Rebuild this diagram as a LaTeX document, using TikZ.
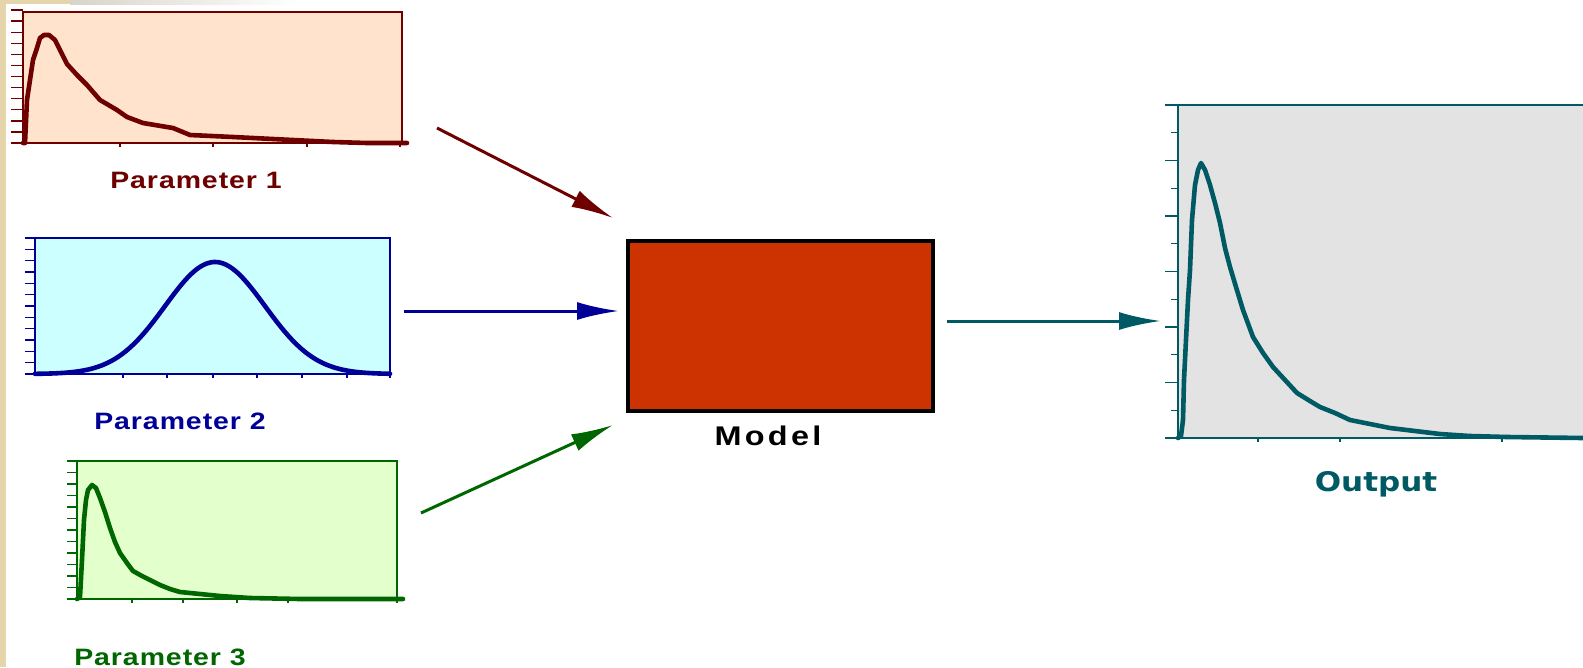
\documentclass[tikz,border=0pt]{standalone}
\usepackage{fontspec}
\usetikzlibrary{arrows.meta}
\newfontfamily\labfont{Liberation Sans}[FakeStretch=1.2]
\newfontfamily\outfont{DejaVu Sans}[FakeStretch=1.15]
\definecolor{beige}{RGB}{230,212,170}
\definecolor{topgrey}{RGB}{215,212,200}
\definecolor{pAfill}{RGB}{255,227,204}
\definecolor{pAline}{RGB}{110,0,0}
\definecolor{pBfill}{RGB}{204,255,255}
\definecolor{pBline}{RGB}{0,0,153}
\definecolor{pCfill}{RGB}{227,255,204}
\definecolor{pCline}{RGB}{0,102,0}
\definecolor{outfill}{RGB}{227,227,227}
\definecolor{tealc}{RGB}{0,90,100}
\definecolor{modelfill}{RGB}{204,51,0}
\tikzset{
  frame/.style={draw, line width=1.5pt, inner sep=0pt, outer sep=0pt, anchor=north west},
  tick/.style={line width=1.4pt},
  curve/.style={line width=4.6pt, line join=round, line cap=round},
  arr/.style={line width=3pt, -{Latex[length=42pt,width=18pt]}},
  lab/.style={inner sep=0pt, font=\labfont\bfseries},
}
\begin{document}
\begin{tikzpicture}[x=1pt,y=-1pt]
\useasboundingbox (0,0) rectangle (1583,667);
\fill[white] (0,0) rectangle (1583,667);
% marble border
\fill[beige] (0,0) rectangle (6,667);
\fill[beige] (0,0) rectangle (70,4);
\shade[left color=topgrey, right color=white] (70,0) rectangle (300,4);

% ---------- Parameter 1 ----------
\node[frame, draw=pAline, fill=pAfill, minimum width=379pt, minimum height=131pt] (p1) at (23,12) {};
\foreach \i in {0,...,12} \draw[tick, pAline] (11,{143-\i*11.08}) -- (23,{143-\i*11.08});
\draw[tick, pAline] (11,143) -- (407,143);
\foreach \x in {120,213,307,400} \draw[tick, pAline] (\x,143) -- (\x,147);
\draw[curve, pAline] plot coordinates {(23,143) (25,143) (27,100) (30,80) (33,60) (37,48) (40,38) (44,35) (49,35) (55,40) (60,50) (67,64) (77,75) (87,85) (100,100) (117,110) (127,117) (143,123) (173,128) (190,135) (233,137) (273,139) (333,142) (367,143) (407,143)};
\node[lab, text=pAline, font=\labfont\bfseries\fontsize{23.7pt}{28pt}\selectfont\addfontfeature{LetterSpace=4}] (l1) at (196,180) {Parameter 1};

% ---------- Parameter 2 ----------
\node[frame, draw=pBline, fill=pBfill, minimum width=355pt, minimum height=136pt] (p2) at (35,238) {};
\foreach \i in {0,...,12} \draw[tick, pBline] (25,{374-\i*11.33}) -- (35,{374-\i*11.33});
\draw[tick, pBline] (25,374) -- (392,374);
\foreach \x in {123,167,213,257,302,347,390} \draw[tick, pBline] (\x,374) -- (\x,378);
\draw[curve, pBline] plot[domain=35:390, samples=120] (\x, {374-112*exp(-0.5*((\x-215)/50)^2)});
\node[lab, text=pBline, font=\labfont\bfseries\fontsize{23.7pt}{28pt}\selectfont\addfontfeature{LetterSpace=4}] (l2) at (180,421) {Parameter 2};

% ---------- Parameter 3 ----------
\node[frame, draw=pCline, fill=pCfill, minimum width=320pt, minimum height=138pt] (p3) at (77,461) {};
\foreach \i in {0,...,12} \draw[tick, pCline] (67,{599-\i*11.5}) -- (77,{599-\i*11.5});
\draw[tick, pCline] (67,599) -- (403,599);
\foreach \x in {132,183,237,288,397} \draw[tick, pCline] (\x,599) -- (\x,603);
\draw[curve, pCline] plot coordinates {(77,599) (80,597) (82,560) (84,520) (86,500) (88,490) (92,485) (96,488) (100,498) (105,512) (110,528) (115,542) (120,553) (127,563) (133,571) (142,576) (150,580) (160,585) (170,589) (180,592) (200,594) (220,596) (250,598) (300,599) (403,599)};
\node[lab, text=pCline, font=\labfont\bfseries\fontsize{23.7pt}{28pt}\selectfont\addfontfeature{LetterSpace=4}] (l3) at (160,657) {Parameter 3};

% ---------- Model ----------
\node[draw=black, line width=3.5pt, fill=modelfill, minimum width=305pt, minimum height=170pt, inner sep=0pt, anchor=north west] (model) at (626,239) {};
\node[lab, text=black, font=\labfont\bfseries\fontsize{27pt}{32pt}\selectfont\addfontfeature{LetterSpace=12}] (lm) at (768,436) {Model};

% ---------- Output ----------
\node[frame, draw=tealc, fill=outfill, minimum width=420pt, minimum height=333pt] (out) at (1178,105) {};
\draw[tick, tealc] (1165,105) -- (1178,105);
\foreach \i in {0,2,...,12} \draw[tick, tealc] (1165,{438-\i*27.75}) -- (1178,{438-\i*27.75});
\foreach \i in {1,3,...,11} \draw[tick, tealc] (1171,{438-\i*27.75}) -- (1178,{438-\i*27.75});
\draw[tick, tealc] (1165,438) -- (1583,438);
\foreach \x in {1258,1340,1502} \draw[tick, tealc] (\x,438) -- (\x,442);
\draw[curve, tealc] plot coordinates {(1178,438) (1181,436) (1183,420) (1184,380) (1186,340) (1188,300) (1190,270) (1192,220) (1195,185) (1198,170) (1201,163) (1205,170) (1210,185) (1215,203) (1220,223) (1225,248) (1230,267) (1236,287) (1243,310) (1253,337) (1263,353) (1273,367) (1285,380) (1297,393) (1310,401) (1320,407) (1335,413) (1350,420) (1370,424) (1390,428) (1415,431) (1440,434) (1470,436) (1507,437) (1583,438)};
\node[inner sep=0pt, text=tealc, font=\outfont\bfseries\fontsize{27pt}{32pt}\selectfont] (lo) at (1376,484) {Output};

% ---------- connectors ----------
\coordinate (a1s) at (437,128);
\coordinate (a1e) at (613,218);
\coordinate (a2s) at (404,311);
\coordinate (a2e) at (619,311);
\coordinate (a3s) at (421,513);
\coordinate (a3e) at (613,425);
\coordinate (a4s) at (947,321);
\coordinate (a4e) at (1161,321);
\draw[arr, pAline] (a1s) -- (a1e);
\draw[arr, pBline] (a2s) -- (a2e);
\draw[arr, pCline] (a3s) -- (a3e);
\draw[arr, tealc] (a4s) -- (a4e);
\end{tikzpicture}
\end{document}
